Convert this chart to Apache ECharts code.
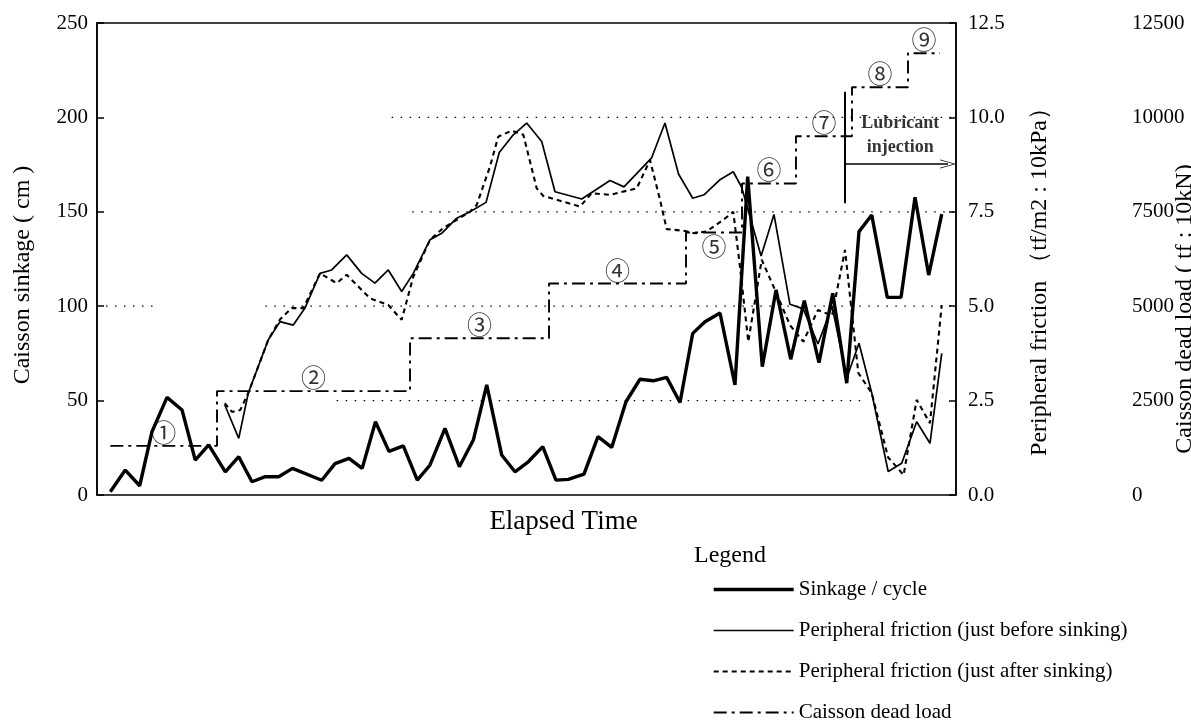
<!DOCTYPE html>
<html>
<head>
<meta charset="utf-8">
<title>Caisson sinkage record</title>
<script src="https://cdn.jsdelivr.net/npm/echarts/dist/echarts.min.js"></script>
<style>
  html, body { margin: 0; padding: 0; background: #fff; }
  #chart { width: 1191px; height: 720px; }
</style>
</head>
<body>
<div id="chart"></div>
<script>
// Elapsed time (arbitrary units, 0-100) and sinkage per cycle (cm)
const sinkTime = [1.55, 3.29, 4.97, 6.40, 8.15, 9.90, 11.44, 13.00, 14.94, 16.50, 18.04, 19.59, 21.15, 22.76,
  26.16, 27.71, 29.34, 30.87, 32.42, 33.99, 35.66, 37.29, 38.77, 40.51, 42.18, 43.81, 45.37, 47.11, 48.66,
  50.21, 51.89, 53.43, 54.87, 56.69, 58.32, 59.92, 61.58, 63.21, 64.76, 66.32, 67.87, 69.35, 70.78, 72.53,
  74.27, 75.75, 77.45, 79.05, 80.76, 82.34, 84.05, 85.65, 87.28, 88.71, 90.19, 92.00, 93.60, 95.23, 96.82, 98.34];
const sinkValue = [1.7, 13.2, 4.9, 33.5, 51.7, 45, 18.5, 26.5, 12.3, 20.3, 7, 9.7, 9.7, 14.1,
  7.8, 16.6, 19.4, 14.1, 38.8, 23.1, 26, 7.9, 15.9, 35.3, 15, 29.1, 58.3, 21.2, 12.3,
  17.6, 25.6, 7.9, 8.3, 11.1, 30.9, 25.2, 49.4, 61.3, 60.5, 62.3, 49, 85.6, 91.8, 96.4,
  58.3, 168.6, 68, 108.6, 71.9, 102.9, 70.1, 106.8, 59.2, 139.5, 148.3, 104.7, 104.7, 157.7, 116.5, 148.8];

// Peripheral friction just before sinking (tf/m2)
const fricBeforeTime = [14.87, 16.50, 17.61, 19.94, 21.30, 22.85, 24.21, 25.96, 27.32, 29.07, 30.81, 32.36,
  33.91, 35.47, 36.82, 38.77, 40.13, 41.87, 43.42, 45.29, 46.83, 48.46, 50.02, 51.77, 53.32, 56.43, 59.72,
  61.35, 64.57, 66.12, 67.70, 69.35, 70.66, 72.47, 74.07, 75.05, 77.31, 78.81, 80.67, 82.22, 83.93, 85.57,
  87.28, 88.71, 90.19, 92.11, 93.68, 95.42, 96.97, 98.34];
const fricBeforeValue = [2.39, 1.50, 2.70, 4.11, 4.59, 4.50, 4.95, 5.87, 5.96, 6.36, 5.87, 5.61,
  5.96, 5.39, 5.87, 6.76, 6.93, 7.33, 7.50, 7.75, 9.07, 9.54, 9.85, 9.36, 8.03, 7.84, 8.33,
  8.16, 8.93, 9.85, 8.50, 7.86, 7.95, 8.34, 8.56, 8.15, 6.33, 7.43, 5.05, 4.93, 4.00, 5.00,
  3.10, 4.02, 2.70, 0.62, 0.84, 1.94, 1.37, 3.75];

// Peripheral friction just after sinking (tf/m2)
const fricAfterTime = [14.87, 15.72, 16.68, 17.61, 19.94, 21.30, 22.67, 24.02, 25.96, 27.90, 29.07, 31.78,
  33.91, 35.47, 36.82, 38.77, 40.31, 43.42, 44.20, 45.75, 46.71, 48.28, 49.63, 51.19, 51.96, 56.23, 57.59,
  59.72, 62.83, 64.38, 65.54, 66.32, 68.25, 69.62, 70.98, 72.92, 74.07, 74.85, 75.82, 77.38, 78.93, 80.67,
  82.22, 83.93, 85.57, 87.08, 88.63, 90.19, 92.09, 93.90, 95.42, 96.97, 98.34];
const fricAfterValue = [2.43, 2.20, 2.25, 2.70, 4.11, 4.65, 4.95, 4.95, 5.87, 5.61, 5.83, 5.21,
  5.03, 4.64, 5.78, 6.76, 7.07, 7.50, 7.68, 8.70, 9.49, 9.65, 9.54, 8.12, 7.92, 7.64, 7.99,
  7.95, 8.12, 8.87, 7.82, 7.04, 7.00, 6.93, 6.98, 7.29, 7.50, 6.05, 4.06, 6.23, 5.43, 4.50,
  4.06, 4.90, 4.75, 6.49, 3.23, 2.70, 1.00, 0.53, 2.52, 1.90, 5.03];

// Caisson dead load stages (tf): each value holds from its time to the next
const loadStepTime = [1.55, 13.97, 36.44, 52.62, 68.57, 75.09, 81.37, 87.89, 94.41, 98.14];
const loadStepValue = [1300, 2750, 4150, 5600, 6950, 8250, 9500, 10800, 11700, 11700];
const stageLabels = ['①', '②', '③', '④', '⑤', '⑥', '⑦', '⑧', '⑨'];
const stageBelow = [false, false, false, false, true, false, false, false, false];

// Lubricant injection marker (time, sinkage-scale extent) and arrow
const lubTime = 87.08;
const lubRange = [154.5, 213.6];
const lubArrow = [87.08, 99.07, 175.3];
const lubText = [93.5, 190.7];

// Partial dotted reference lines: [sinkage value, from time, to time]
const guideLines = [[200, 34.3, 100], [150, 36.7, 100], [100, 0, 7.3], [100, 19.6, 100], [50, 27.9, 89.2]];

// Axis tick values
const sinkTicks = [0, 50, 100, 150, 200, 250];
const fricTicks = [0, 2.5, 5, 7.5, 10, 12.5];
const loadTicks = [0, 2500, 5000, 7500, 10000, 12500];

const serif = "'Liberation Serif', 'Times New Roman', serif";
const zip = (a, b) => a.map((v, i) => [v, b[i]]);

// Line styles shared by each series and its legend entry
const styleSinkage = { color: '#000', width: 3.4 };
const styleBefore = { color: '#000', width: 1.7 };
const styleAfter = { color: '#000', width: 2.1, type: [5, 4] };
const styleLoad = { color: '#000', width: 1.9, type: [13, 5, 3, 5] };

const stagePoints = stageLabels.map((txt, i) => ({
  value: [(loadStepTime[i] + loadStepTime[i + 1]) / 2, loadStepValue[i]],
  label: { formatter: txt, position: stageBelow[i] ? 'bottom' : 'top' }
}));

const guideSeries = guideLines.map(g => ({
  type: 'line', silent: true, symbol: 'none', yAxisIndex: 0, z: 1,
  data: [[g[1], g[0]], [g[2], g[0]]],
  lineStyle: { color: '#000', width: 1.3, type: [1.5, 7.5] }
}));

const chart = echarts.init(document.getElementById('chart'), null, { renderer: 'canvas' });

const option = {
  backgroundColor: '#fff',
  animation: false,
  title: {
    text: 'Legend', left: 689, top: 539,
    textStyle: { fontFamily: serif, fontSize: 24, fontWeight: 'normal', color: '#000' }
  },
  legend: {
    orient: 'vertical', left: 712, top: 579, height: 170, padding: 0,
    itemWidth: 80, itemHeight: 14, itemGap: 20,
    itemStyle: { opacity: 0 },
    textStyle: { fontFamily: serif, fontSize: 21, color: '#000' },
    data: [
      { name: 'Sinkage / cycle', lineStyle: styleSinkage },
      { name: 'Peripheral friction (just before sinking)', lineStyle: styleBefore },
      { name: 'Peripheral friction (just after sinking)', lineStyle: styleAfter },
      { name: 'Caisson dead load', lineStyle: styleLoad }
    ]
  },
  grid: {
    left: 97, right: 235, top: 23, bottom: 225, outerBoundsMode: 'none',
    show: true, borderColor: '#000', borderWidth: 1.5, backgroundColor: 'transparent'
  },
  xAxis: {
    type: 'value', min: 0, max: 100,
    name: 'Elapsed Time', nameLocation: 'middle', nameGap: 13, nameMoveOverlap: false,
    nameTextStyle: { fontFamily: serif, fontSize: 27, color: '#000', padding: [0, 0, 0, 74] },
    axisLine: { show: false }, axisTick: { show: false },
    axisLabel: { show: false }, splitLine: { show: false }
  },
  yAxis: [
    {
      type: 'value', position: 'left', min: sinkTicks[0], max: sinkTicks[sinkTicks.length - 1], interval: 50,
      name: 'Caisson sinkage ( cm )', nameLocation: 'middle', nameGap: 62, nameRotate: 90, nameMoveOverlap: false,
      nameTextStyle: { fontFamily: serif, fontSize: 24, color: '#000', padding: [0, 32, 0, 0] },
      axisLine: { show: true, lineStyle: { color: '#000', width: 1.5 } },
      axisTick: { show: true, inside: true, length: 7, lineStyle: { color: '#000', width: 1.5 } },
      axisLabel: { fontFamily: serif, fontSize: 21, color: '#000', margin: 9 },
      splitLine: { show: false }
    },
    {
      type: 'value', position: 'right', min: fricTicks[0], max: fricTicks[fricTicks.length - 1], interval: 2.5,
      name: 'Peripheral friction （tf/m2 : 10kPa）', nameLocation: 'middle', nameGap: 72, nameRotate: 90, nameMoveOverlap: false,
      nameTextStyle: { fontFamily: serif, fontSize: 24, color: '#000', padding: [0, 34, 0, 0] },
      axisLine: { show: true, lineStyle: { color: '#000', width: 1.5 } },
      axisTick: { show: true, inside: true, length: 7, lineStyle: { color: '#000', width: 1.5 } },
      axisLabel: { fontFamily: serif, fontSize: 21, color: '#000', margin: 12, formatter: v => v.toFixed(1) },
      splitLine: { show: false }
    },
    {
      type: 'value', position: 'right', offset: 170, min: loadTicks[0], max: loadTicks[loadTicks.length - 1], interval: 2500,
      name: 'Caisson dead load ( tf : 10kN)', nameLocation: 'middle', nameGap: 47, nameRotate: 90, nameMoveOverlap: false,
      nameTextStyle: { fontFamily: serif, fontSize: 24, color: '#000', padding: [0, 100, 0, 0] },
      axisLine: { show: false }, axisTick: { show: false },
      axisLabel: { fontFamily: serif, fontSize: 21, color: '#000', margin: 6, formatter: v => String(v) },
      splitLine: { show: false }
    }
  ],
  series: [
    ...guideSeries,
    {
      name: 'Sinkage / cycle', type: 'line', yAxisIndex: 0, symbol: 'none', z: 5,
      data: zip(sinkTime, sinkValue),
      lineStyle: styleSinkage, itemStyle: { color: '#000' }
    },
    {
      name: 'Peripheral friction (just before sinking)', type: 'line', yAxisIndex: 1, symbol: 'none', z: 4,
      data: zip(fricBeforeTime, fricBeforeValue),
      lineStyle: styleBefore, itemStyle: { color: '#000' }
    },
    {
      name: 'Peripheral friction (just after sinking)', type: 'line', yAxisIndex: 1, symbol: 'none', z: 4,
      data: zip(fricAfterTime, fricAfterValue),
      lineStyle: styleAfter, itemStyle: { color: '#000' }
    },
    {
      name: 'Caisson dead load', type: 'line', yAxisIndex: 2, symbol: 'none', step: 'end', z: 3,
      data: zip(loadStepTime, loadStepValue),
      lineStyle: styleLoad, itemStyle: { color: '#000' }
    },
    {
      type: 'scatter', yAxisIndex: 2, symbolSize: 0, silent: true, z: 6,
      data: stagePoints,
      label: {
        show: true, distance: 2, color: '#000', lineHeight: 23,
        fontFamily: "'Noto Sans CJK JP', 'DejaVu Sans', sans-serif", fontSize: 25
      }
    },
    {
      type: 'line', yAxisIndex: 0, symbol: 'none', silent: true, z: 6,
      data: [[lubTime, lubRange[0]], [lubTime, lubRange[1]]],
      lineStyle: { color: '#000', width: 2 },
      markLine: {
        silent: true, symbol: ['none', 'path://M0,22 L10,0 L20,22 L18.5,22 L10,3.5 L1.5,22 Z'], symbolSize: [9, 16],
        label: { show: false },
        lineStyle: { color: '#000', width: 1.5, type: 'solid' },
        data: [[{ coord: [lubArrow[0], lubArrow[2]] }, { coord: [lubArrow[1], lubArrow[2]] }]]
      }
    },
    {
      type: 'scatter', yAxisIndex: 0, symbolSize: 0, silent: true, z: 6,
      data: [{ value: lubText }],
      label: {
        show: true, position: 'inside', formatter: 'Lubricant\ninjection',
        fontFamily: serif, fontSize: 18, fontWeight: 'bold', lineHeight: 24, color: '#000', align: 'center'
      }
    }
  ]
};

chart.setOption(option);
</script>
</body>
</html>
